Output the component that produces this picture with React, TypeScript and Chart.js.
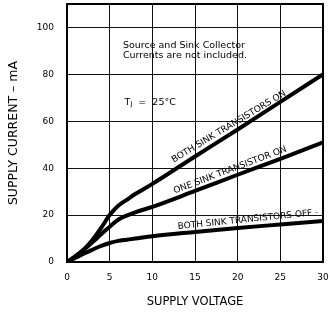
import React, { useEffect, useRef } from "react";
import { Chart, registerables } from "chart.js";

Chart.register(...registerables);

const FONT = "'DejaVu Sans', sans-serif";

// Supply voltage (V)
const voltages = [0, 1, 2, 3, 4, 5, 6, 7, 8, 10, 15, 20, 25, 30];
// Supply current (mA)
const bothOn = [0, 2.5, 5.5, 9.5, 14.5, 20, 24, 26.5, 29, 33.3, 45, 56.5, 68.3, 80];
const oneOn = [0, 2.5, 5.3, 8.5, 11.8, 15, 18, 19.8, 21.2, 23.5, 30.3, 37.2, 44, 51];
const bothOff = [0, 1.8, 3.6, 5.3, 6.9, 8.1, 9, 9.5, 10, 11, 12.8, 14.5, 16, 17.5];

const xTickStep = 5;
const yTickStep = 20;
const xMax = 30;
const yMax = 110;

const curveLabels = [
  { text: "BOTH SINK TRANSISTORS ON", series: bothOn, at: 19.4, offset: 7, tilt: 1.5 },
  { text: "ONE SINK TRANSISTOR ON", series: oneOn, at: 19.4, offset: 7, tilt: 0 },
  { text: "BOTH SINK TRANSISTORS OFF -", series: bothOff, at: 21.3, offset: 7.5, tilt: -1 },
];

const noteLines = ["Source and Sink Collector", "Currents are not included."];
const noteAt = { x: 6.55, y: [92.5, 88.2] };
const tempAt = { x: 6.75, y: 68.2 };

function interp(series: number[], v: number): number {
  for (let i = 0; i < voltages.length - 1; i++) {
    const a = voltages[i], b = voltages[i + 1];
    if (v >= a && v <= b) {
      const t = (v - a) / (b - a);
      return series[i] + t * (series[i + 1] - series[i]);
    }
  }
  return series[series.length - 1];
}

const framePlugin = {
  id: "frame",
  beforeDatasetsDraw(chart: any) {
    const { ctx, chartArea } = chart;
    ctx.save();
    ctx.strokeStyle = "#000";
    ctx.lineWidth = 2;
    ctx.strokeRect(chartArea.left, chartArea.top, chartArea.right - chartArea.left, chartArea.bottom - chartArea.top);
    ctx.restore();
  },
};

const annotationPlugin = {
  id: "annotations",
  afterDatasetsDraw(chart: any) {
    const { ctx } = chart;
    const xs = chart.scales.x;
    const ys = chart.scales.y;
    ctx.save();
    ctx.fillStyle = "#000";
    ctx.font = `9px ${FONT}`;
    ctx.textAlign = "center";
    ctx.textBaseline = "middle";
    for (const l of curveLabels) {
      const x0 = l.at - 2, x1 = l.at + 2;
      const px0 = xs.getPixelForValue(x0), py0 = ys.getPixelForValue(interp(l.series, x0));
      const px1 = xs.getPixelForValue(x1), py1 = ys.getPixelForValue(interp(l.series, x1));
      const angle = Math.atan2(py1 - py0, px1 - px0) + (l.tilt * Math.PI) / 180;
      const cx = xs.getPixelForValue(l.at);
      const cy = ys.getPixelForValue(interp(l.series, l.at));
      ctx.save();
      ctx.translate(cx, cy);
      ctx.rotate(angle);
      ctx.fillText(l.text, 0, -l.offset);
      ctx.restore();
    }
    // note
    ctx.textAlign = "left";
    ctx.font = `9.5px ${FONT}`;
    noteLines.forEach((t, i) => {
      ctx.fillText(t, xs.getPixelForValue(noteAt.x), ys.getPixelForValue(noteAt.y[i]));
    });
    // T_J = 25°C
    let tx = xs.getPixelForValue(tempAt.x);
    const ty = ys.getPixelForValue(tempAt.y);
    ctx.font = `9.5px ${FONT}`;
    ctx.fillText("T", tx, ty);
    tx += ctx.measureText("T").width;
    ctx.font = `6.5px ${FONT}`;
    ctx.fillText("J", tx, ty + 2.5);
    tx += ctx.measureText("J").width;
    ctx.font = `9.5px ${FONT}`;
    ctx.fillText("  =  25\u00B0C", tx, ty);
    ctx.restore();
  },
};

export default function App() {
  const ref = useRef<HTMLCanvasElement>(null);
  useEffect(() => {
    if (!ref.current) return;
    const ds = (data: number[]) => ({
      data: voltages.map((v, i) => ({ x: v, y: data[i] })),
      borderColor: "#000",
      backgroundColor: "#000",
      borderWidth: 4,
      pointRadius: 0,
      cubicInterpolationMode: "monotone" as const,
      fill: false,
    });
    const chart: any = new Chart(ref.current, {
      type: "line",
      data: {
        datasets: [ds(bothOn), ds(oneOn), ds(bothOff)],
      },
      options: {
        animation: false,
        responsive: false,
        layout: { autoPadding: false, padding: { left: 0, right: 7, top: 4, bottom: 0 } },
        plugins: { legend: { display: false }, tooltip: { enabled: false } },
        scales: {
          x: {
            type: "linear",
            min: 0,
            max: xMax,
            ticks: { stepSize: xTickStep, color: "#000", font: { family: FONT, size: 9 }, padding: 10, maxRotation: 0 },
            grid: { color: "#111", lineWidth: 1, drawTicks: false },
            border: { display: false },
            title: { display: true, text: "SUPPLY VOLTAGE", color: "#000", font: { family: FONT, size: 11.5 }, padding: { top: 4, bottom: 4 } },
            afterFit: (s: any) => { s.height = 51; s.paddingLeft = 0; s.paddingRight = 0; },
          },
          y: {
            type: "linear",
            min: 0,
            max: yMax,
            ticks: { stepSize: yTickStep, includeBounds: false, color: "#000", font: { family: FONT, size: 9 }, padding: 13 },
            grid: { color: "#111", lineWidth: 1, drawTicks: false },
            border: { display: false },
            title: { display: true, text: "SUPPLY CURRENT \u2013 mA", color: "#000", font: { family: FONT, size: 12.5 }, padding: { top: 6, bottom: 4 } },
            afterFit: (s: any) => { s.width = 67; s.paddingTop = 0; s.paddingBottom = 0; },
          },
        },
      },
      plugins: [framePlugin, annotationPlugin],
    } as any);
    return () => chart.destroy();
  }, []);
  return (
    <canvas
      ref={ref}
      width={330}
      height={313}
      style={{ position: "absolute", left: 0, top: 0, width: 330, height: 313 }}
    />
  );
}
